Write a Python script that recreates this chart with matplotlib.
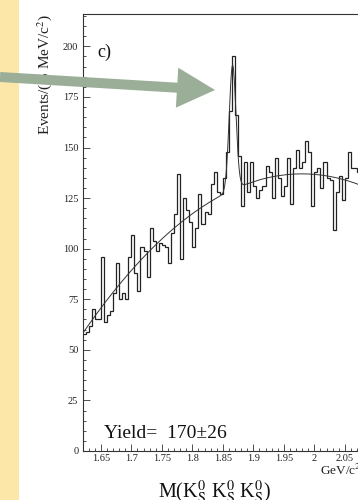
import numpy as np
import matplotlib
matplotlib.use("Agg")
import matplotlib.pyplot as plt
from matplotlib.patches import FancyArrow, Rectangle
from matplotlib.ticker import MultipleLocator, FixedLocator, FuncFormatter

plt.rcParams["font.family"] = ["Liberation Serif", "DejaVu Serif"]
plt.rcParams["mathtext.fontset"] = "stix"

# --- histogram: M(KsKsKs) in 5 MeV bins starting at 1.62 GeV ---
bin_lo = 1.62
bin_width = 0.005
counts = [
    58, 59, 62, 70, 65, 65, 96, 64, 67, 69,
    78, 93, 75, 78, 75, 96, 107, 88, 79, 101,
    99, 86, 110, 104, 99, 103, 102, 101, 93, 108,
    117, 137, 95, 125, 119, 113, 101, 110, 127, 112,
    118, 117, 132, 138, 128, 127, 135, 148, 168, 195,
    166, 146, 121, 143, 128, 143, 131, 125, 129, 131,
    141, 138, 125, 145, 135, 126, 131, 145, 122, 140,
    149, 140, 143, 153, 148, 121, 138, 140, 130, 143,
    135, 134, 109, 128, 136, 124, 135, 148, 140, 140,
    138,
]

# --- fit: quadratic background in (m - bin_lo) plus a Gaussian signal ---
bkg_coef = [58.0, 439.0, -610.0]
peak_mean = 1.866
peak_sigma = 0.0055
peak_yield = 170
peak_error = 26

x_range = (1.62, 2.10)
y_range = (0, 216)
x_ticks = [1.65, 1.70, 1.75, 1.80, 1.85, 1.90, 1.95, 2.00, 2.05]

W, H = 358, 500
fig = plt.figure(figsize=(W / 100, H / 100), dpi=100)
fig.patch.set_facecolor("white")

ax_left, ax_bottom, ax_top = 82.5, 451, 14
ax_width_px = (x_range[1] - x_range[0]) * 610
ax = fig.add_axes([ax_left / W, 1 - ax_bottom / H, ax_width_px / W, (ax_bottom - ax_top) / H])

edges = bin_lo + bin_width * np.arange(len(counts) + 1)
ax.stairs(counts, edges, baseline=None, color="#222222", lw=0.9)

m = np.linspace(x_range[0], x_range[1], 800)
u = m - bin_lo
bkg = bkg_coef[0] + bkg_coef[1] * u + bkg_coef[2] * u ** 2
amp = peak_yield * bin_width / (peak_sigma * np.sqrt(2 * np.pi))
fit = bkg + amp * np.exp(-0.5 * ((m - peak_mean) / peak_sigma) ** 2)
ax.plot(m, fit, color="#333333", lw=0.7)

ax.set_xlim(*x_range)
ax.set_ylim(*y_range)

ax.spines["right"].set_visible(False)
for side in ("left", "bottom", "top"):
    ax.spines[side].set_color("#333333")
    ax.spines[side].set_linewidth(0.8)

ax.xaxis.set_major_locator(FixedLocator(x_ticks))
ax.xaxis.set_minor_locator(MultipleLocator(0.01))
ax.yaxis.set_major_locator(MultipleLocator(25))
ax.yaxis.set_minor_locator(MultipleLocator(5))
ax.xaxis.set_major_formatter(FuncFormatter(lambda v, p: f"{v:g}"))
ax.yaxis.set_major_formatter(FuncFormatter(lambda v, p: f"{v:g}"))
ax.tick_params(which="both", direction="in", colors="#333333", labelcolor="#222222",
               labelsize=7.5, width=0.6)
ax.tick_params(which="major", length=5)
ax.tick_params(which="minor", length=2.5)
ax.tick_params(axis="y", pad=3)
ax.tick_params(axis="x", pad=2)

# --- labels ---
fig.text(45 / W, 1 - 14 / H, r"Events/( 5 MeV/c$^2$)", rotation=90,
         ha="center", va="top", fontsize=11, color="#222222")
fig.text(97 / W, 1 - 52 / H, "c)", ha="left", va="center", fontsize=13,
         color="#111111")
fig.text(104 / W, 1 - 438 / H, f"Yield=  {peak_yield}\u00b1{peak_error}",
         ha="left", va="baseline", fontsize=14, color="#111111")
fig.text(320 / W, 1 - 475 / H, r"GeV/c$^2$", ha="left", va="baseline",
         fontsize=9.5, color="#222222")
fig.text(158 / W, 1 - 498 / H,
         r"M(K$_\mathrm{S}^0$ K$_\mathrm{S}^0$ K$_\mathrm{S}^0$)",
         ha="left", va="baseline", fontsize=14.5, color="#111111")

# --- overlay: side band and pointer arrow, in pixel coordinates ---
ov = fig.add_axes([0, 0, 1, 1], zorder=10)
ov.set_xlim(0, W)
ov.set_ylim(H, 0)
ov.axis("off")
ov.patch.set_alpha(0)
ov.add_patch(Rectangle((0, 0), 19, H, facecolor="#fde7a8", edgecolor="none"))
ov.add_patch(FancyArrow(0, 77, 215, 13, width=10, head_width=40, head_length=38,
                        length_includes_head=True, facecolor="#9aae98",
                        edgecolor="none"))

fig.savefig("out.png", dpi=100)
